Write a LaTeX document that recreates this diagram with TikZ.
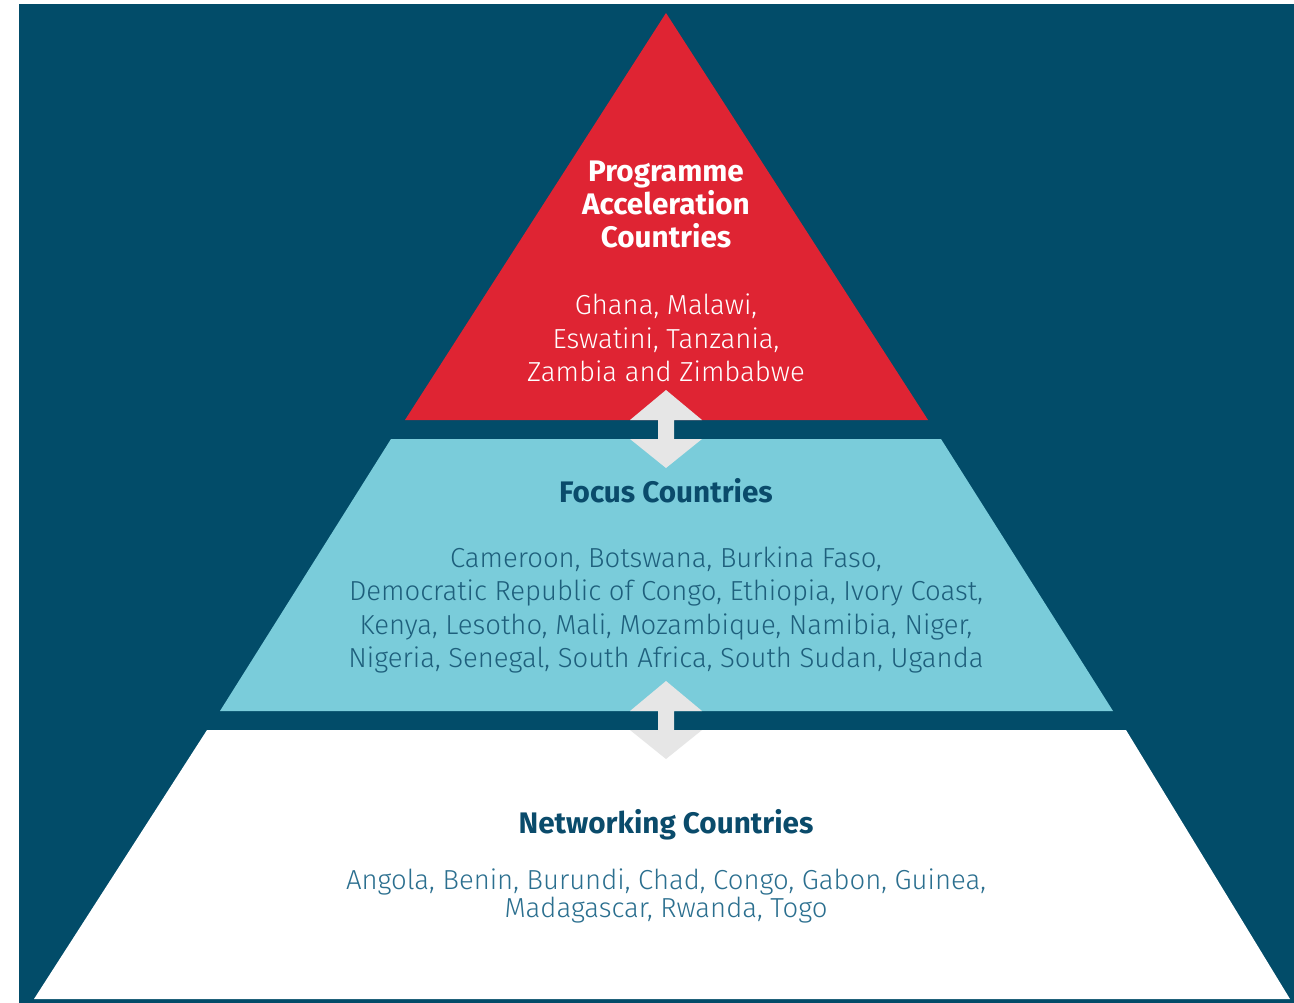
\documentclass[tikz,border=0pt]{standalone}
\usepackage{fontspec}
\setmainfont{Fira Sans Light}[BoldFont={Fira Sans Bold}]
\usepackage{tikz}
\definecolor{navy}{HTML}{024C69}
\definecolor{acred}{HTML}{DF2433}
\definecolor{focusblue}{HTML}{7ACCDA}
\definecolor{arrowgrey}{HTML}{E6E6E6}
\definecolor{headteal}{HTML}{0A4B6B}
\definecolor{bodyteal}{HTML}{1E5F7C}
\definecolor{netteal}{HTML}{2B6F8F}

\begin{document}
\begin{tikzpicture}[x=1pt,y=-1pt,
    head/.style={font=\bfseries\fontsize{29.7}{33}\selectfont,align=center,inner sep=0pt},
    body/.style={font=\fontsize{27.5}{33.5}\selectfont,align=center,inner sep=0pt},
    updown/.style={fill=arrowgrey}]
    \useasboundingbox (0,0) rectangle (1294,1003);
    \fill[white] (0,0) rectangle (1294,1003);
    \fill[navy] (19,4) rectangle (1294,1003);
    % pyramid levels
    \fill[acred] (666,13) -- (928,420) -- (405,420) -- cycle;
    \fill[focusblue] (391,439) -- (941,439) -- (1113,711) -- (220,711) -- cycle;
    \fill[white] (207,730) -- (1126,730) -- (1290,999) -- (34,999) -- cycle;
    \foreach \y/\g in {420/19,711/19} {
        \fill[updown] (666,\y-30) -- (702,\y) -- (674,\y) -- (674,\y+\g) -- (702,\y+\g)
            -- (666,\y+\g+29) -- (630,\y+\g) -- (658,\y+\g) -- (658,\y) -- (630,\y) -- cycle;
    }
    \node [head,text=white] (PacHead) at (666,204) {Programme\\Acceleration\\Countries};
    \node [body,text=white] (PacList) at (666,338) {Ghana, Malawi,\\Eswatini, Tanzania,\\Zambia and Zimbabwe};
    \node [head,text=headteal] (FocusHead) at (666,491) {Focus Countries};
    \node [body,text=bodyteal] (FocusList) at (666,610)
        {Cameroon, Botswana, Burkina Faso,\\Democratic Republic of Congo, Ethiopia, Ivory Coast,\\Kenya, Lesotho, Mali, Mozambique, Namibia, Niger,\\Nigeria, Senegal, South Africa, South Sudan, Uganda};
    \node [head,text=headteal] (NetHead) at (666,825) {Networking Countries};
    \node [body,text=netteal,font=\fontsize{27.5}{28}\selectfont] (NetList) at (666,896)
        {Angola, Benin, Burundi, Chad, Congo, Gabon, Guinea,\\Madagascar, Rwanda, Togo};
\end{tikzpicture}
\end{document}
